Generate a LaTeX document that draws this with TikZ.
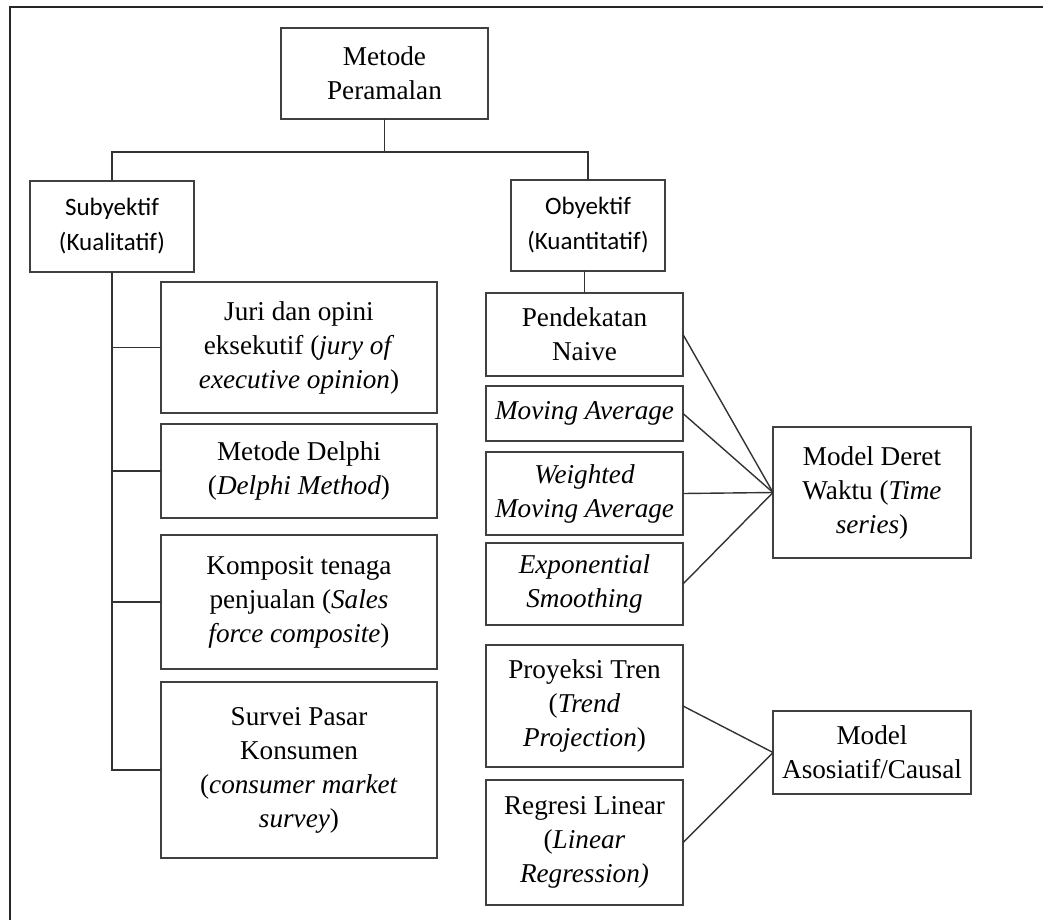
\documentclass[tikz,border=0pt]{standalone}
\usepackage{fontspec}
\setmainfont{Liberation Serif}
\newfontfamily\calibri{Carlito}
\usetikzlibrary{calc}

\begin{document}
\begin{tikzpicture}[x=0.5pt, y=-0.5pt,
  box/.style={draw=black!75, line width=0.7pt, align=center, inner sep=2pt,
    outer sep=0pt, font=\fontsize{13.6}{17}\selectfont},
  sbox/.style={box, font=\calibri\fontsize{12.5}{17.5}\selectfont},
  leftbox/.style={box, minimum width=138pt},
  rightbox/.style={box, minimum width=98.5pt},
  link/.style={draw=black!80, line width=0.7pt},
]
  \useasboundingbox (0,0) rectangle (1043,920);
  \draw[black!85, line width=1pt] (10,920) -- (10,7) -- (1043,7);

  \node[box, minimum width=103.5pt, minimum height=45.5pt] (top) at (384.5,73.5) {Metode\\Peramalan};
  \node[sbox, minimum width=82pt, minimum height=45.5pt] (subj) at (112,226.5) {Subyektif\\(Kualitatif)};
  \node[sbox, minimum width=77pt, minimum height=45.5pt] (obj) at (588,225.5) {Obyektif\\(Kuantitatif)};

  \node[leftbox, minimum height=65.5pt] (juri) at (299,347.5) {Juri dan opini\\eksekutif (\textit{jury of}\\\textit{executive opinion})};
  \node[leftbox, minimum height=47pt] (delphi) at (299,471) {Metode Delphi\\(\textit{Delphi Method})};
  \node[leftbox, minimum height=67pt] (komposit) at (299,602) {Komposit tenaga\\penjualan (\textit{Sales}\\\textit{force composite})};
  \node[leftbox, minimum height=88pt] (survei) at (299,770) {Survei Pasar\\Konsumen\\(\textit{consumer market}\\\textit{survey})};

  \node[rightbox, minimum height=41.5pt] (naive) at (584.5,334.5) {Pendekatan\\Naive};
  \node[rightbox, minimum height=27.5pt] (ma) at (584.5,413.5) {\textit{Moving Average}};
  \node[rightbox, minimum height=41.5pt] (wma) at (584.5,493.5) {\textit{Weighted}\\\textit{Moving Average}};
  \node[rightbox, minimum height=41pt] (es) at (584.5,584) {\textit{Exponential}\\\textit{Smoothing}};
  \node[rightbox, minimum height=61pt] (tren) at (584.5,706) {Proyeksi Tren\\(\textit{Trend}\\\textit{Projection})};
  \node[rightbox, minimum height=62.5pt] (regresi) at (584.5,842.5) {Regresi Linear\\(\textit{Linear}\\\textit{Regression)}};

  \node[box, minimum width=99pt, minimum height=65.5pt] (deret) at (872,492.5) {Model Deret\\Waktu (\textit{Time}\\\textit{series})};
  \node[box, minimum width=99pt, minimum height=41.5pt] (kausal) at (872,752.5) {Model\\Asosiatif/Causal};

  \coordinate (bus) at (384.5,152);
  \draw[link] (top.south) -- (bus);
  \draw[link] (subj.north) |- (bus) -| (obj.north);

  \draw[link] (subj.south) |- (survei.west);
  \draw[link] (juri.west) -- (juri.west -| subj.south);
  \draw[link] (delphi.west) -- (delphi.west -| subj.south);
  \draw[link] (komposit.west) -- (komposit.west -| subj.south);

  \draw[link] (naive.north) -- (naive.north |- obj.south);

  \draw[link] (naive.east) -- (deret.west);
  \draw[link] (ma.east) -- (deret.west);
  \draw[link] (wma.east) -- (deret.west);
  \draw[link] (es.east) -- (deret.west);

  \draw[link] (tren.east) -- (kausal.west);
  \draw[link] (regresi.east) -- (kausal.west);
\end{tikzpicture}
\end{document}
